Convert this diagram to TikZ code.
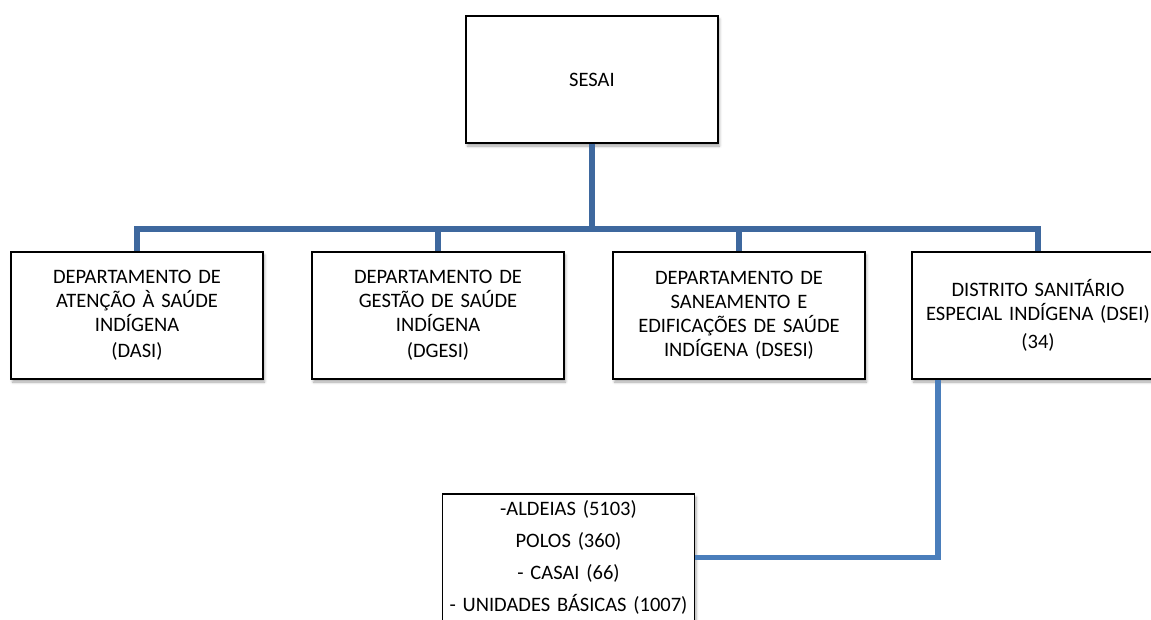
\documentclass[tikz,border=0pt]{standalone}
\usepackage{fontspec}
\setmainfont{Carlito}
\usetikzlibrary{shadows.blur}
\definecolor{azul}{RGB}{62,104,158}
\definecolor{azulclaro}{RGB}{74,126,187}
\tikzset{
  caixa/.style={draw=black,line width=1.8pt,fill=white,minimum width=252pt,minimum height=127pt,
    text width=248pt,inner sep=1pt,align=center,font=\fontsize{20.5}{24}\selectfont,
    blur shadow={shadow xshift=1.5pt,shadow yshift=-3pt,shadow blur radius=2.5pt,shadow opacity=35}},
  ramo/.style={azul,line width=6pt},
  ramoclaro/.style={azulclaro,line width=5.5pt}
}
\begin{document}
\begin{tikzpicture}[x=1pt,y=-1pt]
  \useasboundingbox (0,0) rectangle (1151,619);
  \clip (0,0) rectangle (1151,619);
  \coordinate (barra) at (592,229);
  \node[caixa] (sesai) at (592,79.5) {SESAI};
  \node[caixa] (dasi) at (137,315.5) {DEPARTAMENTO DE\\ATENÇÃO À SAÚDE\\INDÍGENA\\[2pt](DASI)};
  \node[caixa] (dgesi) at (438,315.5) {DEPARTAMENTO DE\\GESTÃO DE SAÚDE\\INDÍGENA\\[2pt](DGESI)};
  \node[caixa] (dsesi) at (739,315.5) {DEPARTAMENTO DE\\SANEAMENTO E\\EDIFICAÇÕES DE SAÚDE\\INDÍGENA (DSESI)};
  \node[caixa] (dsei) at (1038,315.5) {DISTRITO SANITÁRIO\\ESPECIAL INDÍGENA (DSEI)\\[4pt](34)};
  \node[caixa] (base) at (568.5,557.5) {-ALDEIAS (5103)\\[8pt]POLOS (360)\\[8pt]- CASAI (66)\\[8pt]- UNIDADES BÁSICAS (1007)};
  \foreach \n in {dasi,dgesi,dsesi,dsei} {
      \draw[ramo] (sesai.south) -- (sesai.south |- barra) -| (\n.north);
  }
  \draw[ramoclaro] ([xshift=-100pt]dsei.south) |- (base.east);
\end{tikzpicture}
\end{document}
